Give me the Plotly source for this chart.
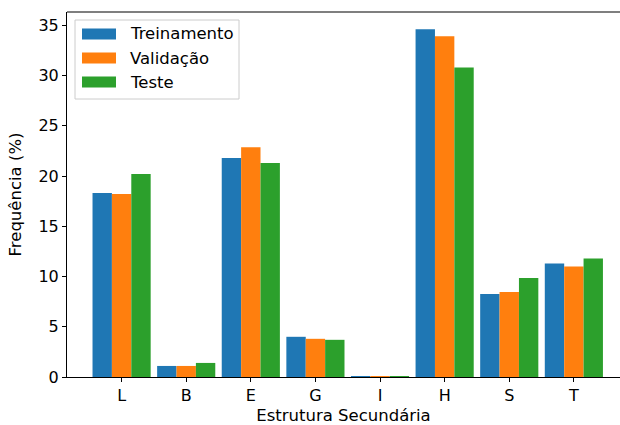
import plotly.graph_objects as go

categories = ["L", "B", "E", "G", "I", "H", "S", "T"]
treinamento = [18.3, 1.1, 21.8, 4.0, 0.05, 34.6, 8.25, 11.3]
validacao = [18.2, 1.1, 22.85, 3.8, 0.04, 33.9, 8.45, 11.0]
teste = [20.2, 1.4, 21.3, 3.7, 0.05, 30.8, 9.85, 11.8]

series_names = ["Treinamento", "Validação", "Teste"]
series_values = [treinamento, validacao, teste]
colors = ["#1f77b4", "#ff7f0e", "#2ca02c"]

W, H = 620, 425
ml, mr, mt, mb = 67, 0, 12, 48
pw, ph = W - ml - mr, H - mt - mb

FONT = "DejaVu Sans"
FS = 16.5
TFS = 16

fig = go.Figure()
for name, vals, col in zip(series_names, series_values, colors):
    fig.add_trace(go.Bar(x=list(range(len(categories))), y=vals, name=name,
                         marker=dict(color=col, line=dict(width=0)),
                         showlegend=False))

def px_x(p):
    return (p - ml) / pw

def px_y(p):
    return (H - mb - p) / ph

shapes = []
annotations = []
# top spine
shapes.append(dict(type="line", xref="paper", yref="paper", x0=0, x1=1.02, y0=1, y1=1,
                   line=dict(color="black", width=1.1), layer="above"))
# legend box
shapes.append(dict(type="rect", xref="paper", yref="paper",
                   x0=px_x(75), x1=px_x(239), y0=px_y(99), y1=px_y(20),
                   line=dict(color="#cccccc", width=1), fillcolor="rgba(255,255,255,0.8)",
                   layer="above"))
for i, (name, col) in enumerate(zip(series_names, colors)):
    cy = 34 + 24 * i
    shapes.append(dict(type="rect", xref="paper", yref="paper",
                       x0=px_x(82), x1=px_x(116), y0=px_y(cy + 5.5), y1=px_y(cy - 5.5),
                       line=dict(width=0), fillcolor=col, layer="above"))
    annotations.append(dict(xref="paper", yref="paper", x=px_x(128), y=px_y(cy),
                            text=name, showarrow=False, xanchor="left", yanchor="middle",
                            font=dict(family=FONT, size=FS, color="black")))

fig.update_layout(
    width=W, height=H,
    margin=dict(l=ml, r=mr, t=mt, b=mb, autoexpand=False),
    paper_bgcolor="white", plot_bgcolor="white",
    barmode="group", bargap=0.1, bargroupgap=0,
    font=dict(family=FONT, size=TFS, color="black"),
    shapes=shapes, annotations=annotations,
    xaxis=dict(range=[-0.845, 7.714], tickmode="array", automargin=False,
               tickvals=list(range(len(categories))), ticktext=categories,
               showgrid=False, zeroline=False, showline=True, mirror=False,
               linecolor="black", linewidth=1.1, ticks="outside", ticklen=4,
               tickwidth=1.1, tickcolor="black",
               title=dict(text="Estrutura Secundária", standoff=10,
                          font=dict(family=FONT, size=FS))),
    yaxis=dict(range=[0, 36.32], tickmode="array", tickvals=[0, 5, 10, 15, 20, 25, 30, 35],
               automargin=False,
               showgrid=False, zeroline=False, showline=True, mirror=False,
               linecolor="black", linewidth=1.1, ticks="outside", ticklen=4,
               tickwidth=1.1, tickcolor="black",
               title=dict(text="Frequência (%)", standoff=12,
                          font=dict(family=FONT, size=FS))),
)

fig.write_html("out.html")
